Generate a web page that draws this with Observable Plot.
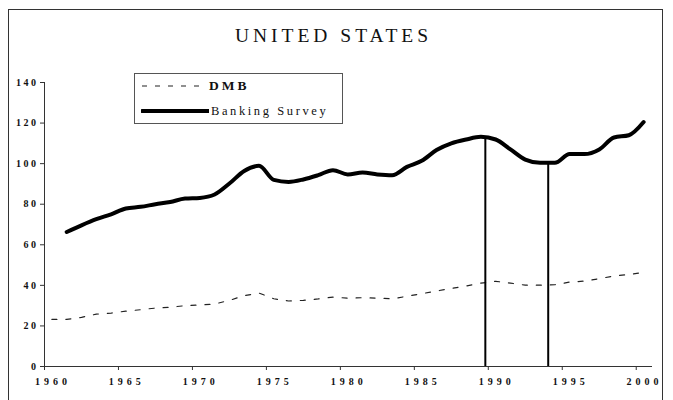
<!DOCTYPE html>
<html>
<head>
<meta charset="utf-8">
<script src="https://cdn.jsdelivr.net/npm/d3@7"></script>
<script src="https://cdn.jsdelivr.net/npm/@observablehq/plot@0.6"></script>
<style>
  html, body { margin: 0; padding: 0; background: #fff; }
  #wrap { position: relative; width: 673px; height: 400px; overflow: hidden; background: #fff; }
  #frame { position: absolute; left: 8px; top: 9px; width: 655px; height: 430px; border: 1px solid #333; box-sizing: border-box; }
  #title { position: absolute; left: 0; width: 667px; top: 25px; text-align: center;
           font-family: "Liberation Serif", serif; font-size: 19.5px; letter-spacing: 4px; color: #111; }
  #chart { position: absolute; left: 0; top: 0; }
  #legend { position: absolute; left: 134px; top: 73px; width: 209px; height: 51px; border: 1px solid #555;
            box-sizing: border-box; background: #fff; font-family: "Liberation Serif", serif; color: #111; }
  .row { position: absolute; left: 6px; display: flex; align-items: center; }
  .row span { margin-left: 2px; font-size: 12.5px; letter-spacing: 2.6px; }
</style>
</head>
<body>
<div id="wrap">
  <div id="frame"></div>
  <div id="chart"></div>
  <div id="title">UNITED STATES</div>
  <div id="legend">
    <div class="row" style="top:4px"><svg width="66" height="16"><line x1="1" x2="64" y1="8" y2="8" stroke="#222" stroke-width="1.2" stroke-dasharray="5,8"/></svg><span style="font-weight:bold;font-size:13.5px;letter-spacing:3px">DMB</span></div>
    <div class="row" style="top:29px"><svg width="68" height="16"><line x1="1" x2="68" y1="8" y2="8" stroke="#000" stroke-width="4" stroke-linecap="round"/></svg><span>Banking Survey</span></div>
  </div>
</div>
<script>
const years = [1960,1961,1962,1963,1964,1965,1966,1967,1968,1969,1970,1971,1972,1973,1974,1975,1976,1977,1978,1979,1980,1981,1982,1983,1984,1985,1986,1987,1988,1989,1990,1991,1992,1993,1994,1995,1996,1997,1998,1999,2000];
const dmb = [23.2,23.2,24.2,25.8,26.3,27.3,28.0,28.8,29.2,30.0,30.3,30.8,32.6,34.9,36.2,33.4,32.3,32.6,33.3,34.2,33.7,33.9,33.7,33.4,34.6,35.9,37.2,38.5,39.7,41.1,42.0,41.1,40.1,40.1,40.3,41.6,42.1,43.3,44.6,45.4,46.3];
const bankingSurvey = [null,66.3,69.6,72.6,75.0,77.9,78.7,80.0,81.1,82.8,83.1,84.8,90.2,96.4,98.9,92.0,91.0,92.2,94.3,96.8,94.7,95.6,94.7,94.3,98.4,101.4,106.7,110.0,111.9,113.2,111.9,107.0,102.0,100.4,100.4,104.7,104.7,107.0,112.9,114.0,120.5];
const xTickLabels = [1960,1965,1970,1975,1980,1985,1990,1995,2000];
const yTicks = [0,20,40,60,80,100,120,140];
const turnYears = [1989.3, 1993.55];
const turnValues = [113.0, 100.4];

const rows = years.map((y, i) => ({year: y, dmb: dmb[i], bank: bankingSurvey[i]}));
const turns = turnYears.map((y, i) => ({year: y, value: turnValues[i]}));

const font = "Liberation Serif, serif";
const plot = Plot.plot({
  width: 673,
  height: 400,
  marginLeft: 44,
  marginRight: 21,
  marginTop: 82,
  marginBottom: 34,
  style: {background: "transparent", fontFamily: font},
  x: {domain: [1959.5, 2000.6], axis: null},
  y: {domain: [0, 140], axis: null},
  marks: [
    Plot.ruleY([0], {stroke: "#333", strokeWidth: 1}),
    Plot.ruleX([1959.5], {y1: 0, y2: 140, stroke: "#333", strokeWidth: 1}),
    Plot.ruleY(yTicks, {x1: 1959.5, x2: 1959.5, insetLeft: -4, stroke: "#333"}),
    Plot.ruleX(xTickLabels, {x: d => d - 0.5, y1: 0, y2: 0, insetBottom: -4, stroke: "#333"}),
    Plot.text(yTicks, {x: 1959.5, y: d => d, text: d => String(d), textAnchor: "end", dx: -6,
      fontSize: 10, fontWeight: "bold", fontFamily: font, fill: "#111"}),
    Plot.text(xTickLabels, {x: d => d, y: 0, text: d => String(d), dx: 1, dy: 15,
      fontSize: 10, fontWeight: "bold", fontFamily: font, fill: "#111"}),
    Plot.line(rows, {x: "year", y: "dmb", stroke: "#222", strokeWidth: 1.2, strokeDasharray: "5,9"}),
    Plot.line(rows.filter(d => d.bank != null), {x: "year", y: "bank", stroke: "#000", strokeWidth: 4, strokeLinejoin: "round", strokeLinecap: "round", curve: "monotone-x"}),
    Plot.ruleX(turns, {x: "year", y1: 0, y2: "value", stroke: "#000", strokeWidth: 2})
  ]
});
plot.querySelectorAll("text").forEach(t => {
  const s = t.textContent;
  if (s.length === 4) t.setAttribute("letter-spacing", "4");
  else t.setAttribute("letter-spacing", "2.5");
});
document.getElementById("chart").appendChild(plot);
</script>
</body>
</html>
